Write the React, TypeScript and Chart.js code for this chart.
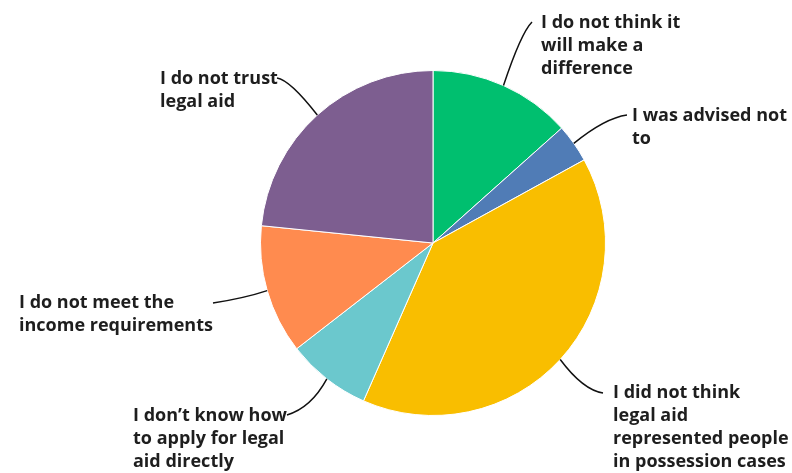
import React, { useEffect, useRef } from "react";
import { Chart, registerables } from "chart.js";

Chart.register(...registerables);

const categories: string[][] = [
  ["I do not think it", "will make a", "difference"],
  ["I was advised not", "to"],
  ["I did not think", "legal aid", "represented people", "in possession cases"],
  ["I don\u2019t know how", "to apply for legal", "aid directly"],
  ["I do not meet the", "income requirements"],
  ["I do not trust", "legal aid"],
];
const values: number[] = [13.4, 3.6, 39.6, 7.9, 12.1, 23.4];
const colors: string[] = ["#00BF6F", "#507CB6", "#F9BE00", "#6BC8CD", "#FF8B4F", "#7D5E90"];

// label layout: text left x, first line center y, leader end point, curve control point
const labelLayout = [
  { x: 541, y: 22, ex: 532, ey: 22, cx: 521, cy: 33 },
  { x: 632, y: 115, ex: 627, ey: 115, cx: 605, cy: 118 },
  { x: 613, y: 392, ex: 603, ey: 393, cx: 583, cy: 390 },
  { x: 133, y: 415, ex: 287, ey: 415, cx: 311, cy: 408 },
  { x: 19, y: 302, ex: 213, ey: 303, cx: 245, cy: 298 },
  { x: 160, y: 78, ex: 277, ey: 78, cx: 290, cy: 80 },
];

const FONT = "700 18px 'Open Sans'";
const LINE_H = 23;

const labelPlugin = {
  id: "pieLabels",
  afterDraw(chart: any) {
    const ctx = chart.ctx;
    const meta = chart.getDatasetMeta(0);
    ctx.save();
    meta.data.forEach((arc: any, i: number) => {
      const L = labelLayout[i];
      const mid = (arc.startAngle + arc.endAngle) / 2;
      const sx = arc.x + Math.cos(mid) * arc.outerRadius;
      const sy = arc.y + Math.sin(mid) * arc.outerRadius;
      ctx.beginPath();
      ctx.moveTo(sx, sy);
      ctx.quadraticCurveTo(L.cx, L.cy, L.ex, L.ey);
      ctx.strokeStyle = "#111";
      ctx.lineWidth = 1.5;
      ctx.stroke();
      ctx.fillStyle = "#1e1e1e";
      ctx.font = FONT;
      ctx.textBaseline = "middle";
      ctx.textAlign = "left";
      categories[i].forEach((line, k) => {
        ctx.fillText(line, L.x, L.y + 1 + k * LINE_H);
      });
    });
    ctx.restore();
  },
};

export default function App() {
  const ref = useRef<HTMLCanvasElement | null>(null);
  useEffect(() => {
    if (!ref.current) return;
    const chart = new Chart(ref.current, {
      type: "pie",
      data: {
        labels: categories.map((c) => c.join(" ")),
        datasets: [
          {
            data: values,
            backgroundColor: colors,
            borderColor: "#ffffff",
            borderWidth: 1,
          },
        ],
      },
      options: {
        animation: false,
        responsive: false,
        maintainAspectRatio: false,
        layout: { padding: { top: 70, bottom: 57, left: 260, right: 186 } },
        plugins: { legend: { display: false }, tooltip: { enabled: false } },
      },
      plugins: [labelPlugin],
    });
    return () => chart.destroy();
  }, []);
  return (
    <div style={{ position: "fixed", left: 0, top: 0, width: 792, height: 473, background: "#fff" }}>
      <canvas ref={ref} width={792} height={473} style={{ width: 792, height: 473 }} />
    </div>
  );
}
